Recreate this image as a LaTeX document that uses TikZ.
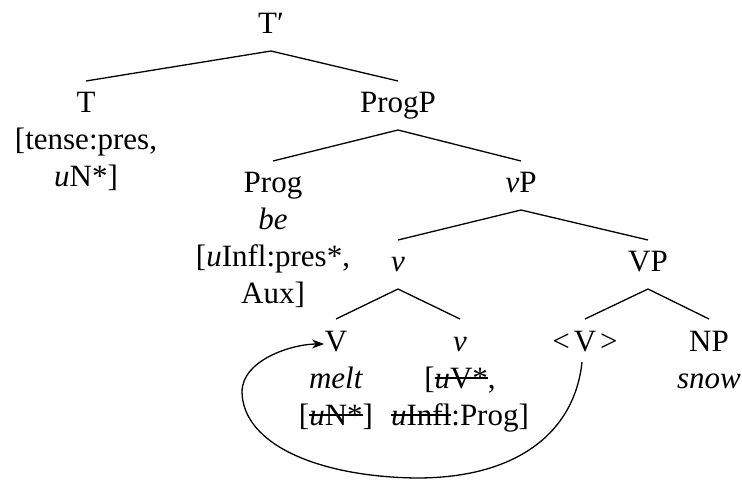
\documentclass[tikz,border=0pt]{standalone}
\usepackage{fontspec}
\setmainfont{Liberation Serif}
\usetikzlibrary{arrows.meta}
\newcommand\strk[1]{{\setbox0\hbox{#1}\rlap{\raisebox{0.3em}{\rule{\wd0}{1.3pt}}}\box0}}
\newcommand\stack[1]{\begin{tabular}[t]{@{}c@{}}#1\end{tabular}}
\begin{document}
\begin{tikzpicture}[x=1pt,y=-1pt,
  every node/.style={font=\fontsize{31}{37}\selectfont, inner sep=0pt, anchor=base},
  edge/.style={line width=1.3pt}]
\useasboundingbox (0,0) rectangle (742,481);
\node (Tb) at (271,34) {T′};
\node (T) at (86,113) {\stack{T\\{[}tense:pres,\\\textit{u}N*]}};
\node (ProgP) at (398,113) {ProgP};
\node (Prog) at (273,193) {\stack{Prog\\\textit{be}\\{[}\textit{u}Infl:pres*,\\Aux]}};
\node (vP) at (521,193) {\textit{v}P};
\node (v1) at (398,272) {\textit{v}};
\node (VP) at (648,272) {VP};
\node (V) at (336,351) {\stack{V\\\textit{melt}\\{[}\strk{\textit{u}N*}]}};
\node (v2) at (460,351) {\stack{\textit{v}\\{[}\strk{\textit{u}V*},\\\strk{\textit{u}Infl}:Prog]}};
\node (Vt) at (585,351) {<\kern4pt V\kern4pt>};
\node (NP) at (709,351) {\stack{NP\\\textit{snow}}};
\draw[edge] ([yshift=-17pt]Tb.base) -- ([yshift=32pt]T.base);
\draw[edge] ([yshift=-17pt]Tb.base) -- ([yshift=32pt]ProgP.base);
\draw[edge] ([yshift=-17pt]ProgP.base) -- ([yshift=32pt]Prog.base);
\draw[edge] ([yshift=-17pt]ProgP.base) -- ([yshift=32pt]vP.base);
\draw[edge] ([yshift=-17pt]vP.base) -- ([yshift=32pt]v1.base);
\draw[edge] ([yshift=-17pt]vP.base) -- ([yshift=32pt]VP.base);
\draw[edge] ([yshift=-17pt]v1.base) -- ([yshift=32pt]V.base);
\draw[edge] ([yshift=-17pt]v1.base) -- ([yshift=32pt]v2.base);
\draw[edge] ([yshift=-17pt]VP.base) -- ([yshift=32pt]Vt.base);
\draw[edge] ([yshift=-17pt]VP.base) -- ([yshift=32pt]NP.base);
\draw[edge, -{Stealth[length=12pt,width=9pt]}] ([xshift=-3pt,yshift=-11pt]Vt.base)
  .. controls (575,430) and (520,478) .. (417,478)
  .. controls (320,477) and (243,445) .. (242,392)
  .. controls (242,360) and (292,344) .. ([xshift=-12pt,yshift=7pt]V.base);
\end{tikzpicture}
\end{document}
